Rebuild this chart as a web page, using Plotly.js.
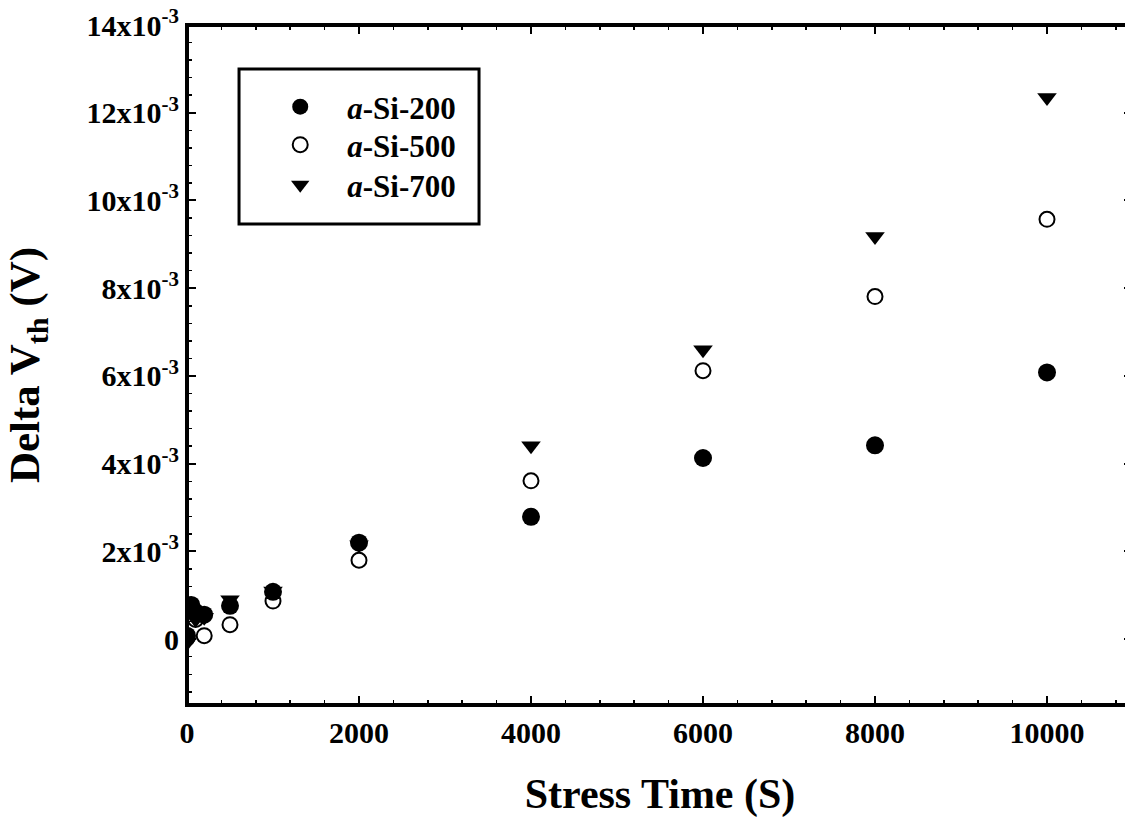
<!DOCTYPE html>
<html>
<head>
<meta charset="utf-8">
<script src="https://cdn.plot.ly/plotly-3.0.1.min.js"></script>
<style>
html, body { margin:0; padding:0; background:#fff; overflow:hidden; }
#chart { width:1133px; height:829px; }
</style>
</head>
<body>
<div id="chart"></div>
<script>
// Stress time (s)
const stressTime = [0, 50, 100, 200, 500, 1000, 2000, 4000, 6000, 8000, 10000];
// Delta Vth (V)
const aSi200 = [0.00008, 0.00078, 0.00062, 0.00056, 0.00076, 0.00108, 0.00220, 0.00279, 0.00413, 0.00442, 0.00608];
const aSi500 = [0.00003, 0.00055, 0.00045, 0.00008, 0.00033, 0.00087, 0.00180, 0.00361, 0.00612, 0.00781, 0.00957];
const aSi700 = [-0.00008, 0.00060, 0.00045, 0.00050, 0.00090, 0.00110, 0.00215, 0.00441, 0.00660, 0.00918, 0.01235];

const seriesNames = ['<i>a</i>-Si-200', '<i>a</i>-Si-500', '<i>a</i>-Si-700'];
const yTickVals = [0, 0.002, 0.004, 0.006, 0.008, 0.010, 0.012, 0.014];
const yTickText = ['0', '2x10<sup>-3</sup>', '4x10<sup>-3</sup>', '6x10<sup>-3</sup>', '8x10<sup>-3</sup>', '10x10<sup>-3</sup>', '12x10<sup>-3</sup>', '14x10<sup>-3</sup>'];
const xTickVals = [0, 2000, 4000, 6000, 8000, 10000];
const xTickText = ['0', '2000', '4000', '6000', '8000', '10000'];

const FONT = 'Liberation Serif, Times New Roman, serif';

// draw order: open circles, triangles, filled circles (filled on top)
const traces = [
  {
    x: stressTime, y: aSi500, name: seriesNames[1], type: 'scatter', mode: 'markers',
    legend: 'legend2',
    marker: {symbol: 'circle', size: 15, color: '#ffffff', line: {color: '#000', width: 2}}
  },
  {
    x: stressTime, y: aSi700, name: seriesNames[2], type: 'scatter', mode: 'markers',
    legend: 'legend3',
    marker: {symbol: 'triangle-down', size: 17, color: '#000', line: {width: 0}}
  },
  {
    x: stressTime, y: aSi200, name: seriesNames[0], type: 'scatter', mode: 'markers',
    legend: 'legend',
    marker: {symbol: 'circle', size: 18, color: '#000', line: {width: 0}}
  }
];

const axisCommon = {
  showgrid: false, zeroline: false, showline: false,
  mirror: 'ticks', ticks: 'inside', ticklen: 9, tickwidth: 2, tickcolor: '#000',
  tickfont: {family: FONT, size: 30, color: '#000', weight: 700}
};

function legendAt(yc) {
  return {
    x: 0.07, y: yc, xanchor: 'left', yanchor: 'middle',
    bgcolor: 'rgba(0,0,0,0)', borderwidth: 0,
    font: {family: FONT, size: 31, color: '#000', weight: 700},
    itemwidth: 84
  };
}

const layout = {
  width: 1133, height: 829,
  margin: {l: 187, r: 0, t: 25, b: 124},
  paper_bgcolor: '#fff', plot_bgcolor: '#fff',
  showlegend: true,
  hovermode: false,
  xaxis: Object.assign({}, axisCommon, {
    range: [0, 11000], tickmode: 'array', tickvals: xTickVals, ticktext: xTickText,
    minor: {tick0: 0, dtick: 400, ticks: 'inside', ticklen: 5, tickwidth: 1.5, tickcolor: '#000'},
    ticklabelstandoff: 7,
    title: {text: 'Stress Time (S)', font: {family: FONT, size: 42, color: '#000', weight: 700}, standoff: 30}
  }),
  yaxis: Object.assign({}, axisCommon, {
    range: [-0.0015, 0.014], tickmode: 'array', tickvals: yTickVals, ticktext: yTickText,
    minor: {tick0: 0, dtick: 0.0004, ticks: 'inside', ticklen: 5, tickwidth: 1.5, tickcolor: '#000'},
    ticklabelstandoff: 7,
    title: {text: 'Delta V<sub>th</sub> (V)', font: {family: FONT, size: 43, color: '#000', weight: 700}, standoff: 33}
  }),
  legend: legendAt(0.8794),
  legend2: legendAt(0.8235),
  legend3: legendAt(0.7647),
  shapes: [
    {
      // plot frame (right edge lies outside the visible window, as in the original)
      type: 'rect', xref: 'paper', yref: 'paper', layer: 'above',
      x0: 0, x1: 1, y0: 0, y1: 1,
      line: {color: '#000', width: 4}, fillcolor: 'rgba(0,0,0,0)'
    },
    {
      // legend box
      type: 'rect', xref: 'paper', yref: 'paper',
      x0: 0.055, x1: 0.3087, y0: 0.7074, y1: 0.9353,
      line: {color: '#000', width: 3}, fillcolor: 'rgba(0,0,0,0)'
    }
  ]
};

Plotly.newPlot('chart', traces, layout, {displayModeBar: false, staticPlot: true});
</script>
</body>
</html>
